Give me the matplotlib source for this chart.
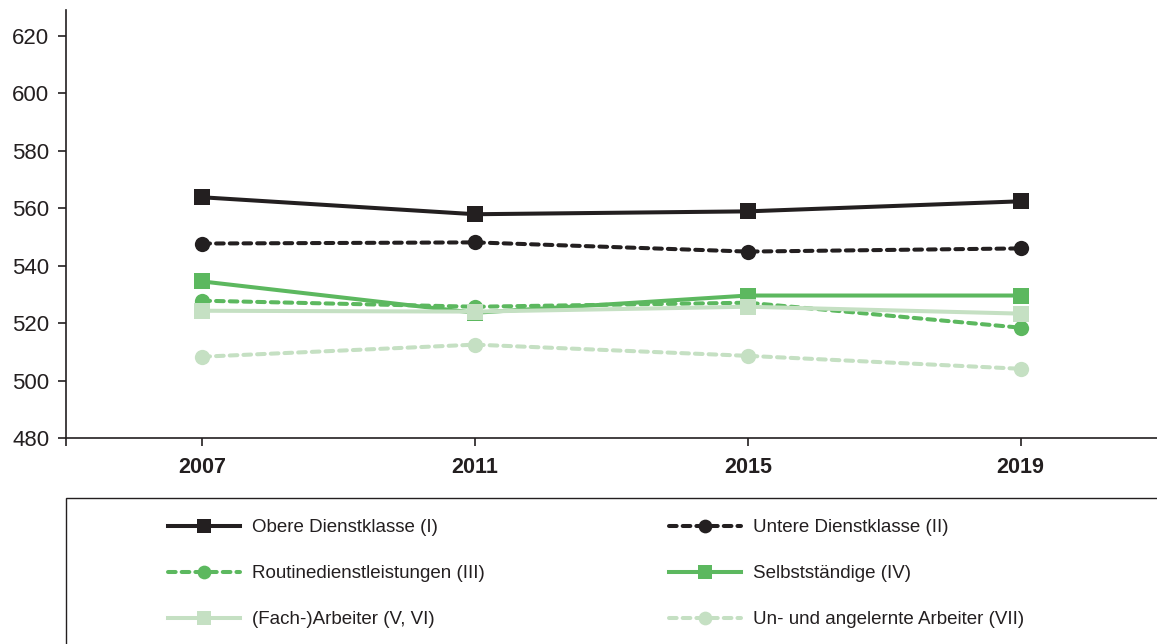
import matplotlib
matplotlib.use("Agg")
import matplotlib.pyplot as plt
from matplotlib.patches import Rectangle

plt.rcParams["font.family"] = ["Liberation Sans", "DejaVu Sans"]

YEARS = ["2007", "2011", "2015", "2019"]
SERIES = [
    "Obere Dienstklasse (I)",
    "Untere Dienstklasse (II)",
    "Routinedienstleistungen (III)",
    "Selbstständige (IV)",
    "(Fach-)Arbeiter (V, VI)",
    "Un- und angelernte Arbeiter (VII)",
]
obere = [563.8, 557.9, 558.9, 562.4]
untere = [547.7, 548.1, 544.9, 546.0]
routine = [527.8, 525.7, 527.1, 518.4]
selbst = [534.5, 523.6, 529.6, 529.6]
fach = [524.3, 524.0, 525.7, 523.3]
unangel = [508.3, 512.5, 508.6, 504.1]

BLACK = "#231f20"
GREEN = "#5cb85f"
LIGHT = "#c5e0c3"

STYLES = [
    (BLACK, "-", "s"),
    (BLACK, "--", "o"),
    (GREEN, "--", "o"),
    (GREEN, "-", "s"),
    (LIGHT, "-", "s"),
    (LIGHT, "--", "o"),
]


def main():
    fig = plt.figure(figsize=(11.57, 6.44), dpi=100)
    W, H = 1157, 644
    ax = fig.add_axes([66 / W, (H - 438) / H, (1157 - 66) / W, (438 - 10) / H])

    x = list(range(len(YEARS)))
    for name, vals, (col, ls, mk) in zip(SERIES, [obere, untere, routine, selbst, fach, unangel], STYLES):
        kw = dict(color=col, linewidth=2.9, marker=mk, markersize=11,
                  markeredgewidth=0, label=name, clip_on=False)
        if ls == "--":
            kw.update(linestyle=(0, (1.9, 1.5)), dash_capstyle="round")
        else:
            kw.update(linestyle="-")
        ax.plot(x, vals, **kw)

    ax.set_xlim(-0.5, 3.5)
    ax.set_ylim(480, 629)
    ax.set_yticks(range(480, 621, 20))
    ax.set_xticks(x)
    ax.set_xticklabels(YEARS, fontweight="bold", fontsize=15.5)
    ax.tick_params(axis="both", colors=BLACK, length=6, width=1.2)
    ax.tick_params(axis="y", labelsize=16, pad=6)
    ax.tick_params(axis="x", pad=8)
    for s in ["top", "right"]:
        ax.spines[s].set_visible(False)
    for s in ["left", "bottom"]:
        ax.spines[s].set_color(BLACK)
        ax.spines[s].set_linewidth(1.2)

    # tick at the left spine position on x
    ax.set_xticks([-0.5], minor=True)
    ax.tick_params(axis="x", which="minor", length=6, width=1.2, colors=BLACK)

    # legend frame running off the figure edges
    fig.patches.append(Rectangle((66 / W, -0.1), 1.2, (H - 498) / H + 0.1,
                                 transform=fig.transFigure, fill=False,
                                 edgecolor=BLACK, linewidth=1.0))

    handles, labels = ax.get_legend_handles_labels()
    order = [0, 2, 4, 1, 3, 5]
    fig.legend([handles[i] for i in order], [labels[i] for i in order],
               ncol=2, loc="upper left", bbox_to_anchor=(168 / W, (H - 519) / H),
               frameon=False, fontsize=13.5, handlelength=3.84, handletextpad=0.62,
               columnspacing=9.86, labelspacing=1.55, borderpad=0, borderaxespad=0,
               markerscale=0.9, labelcolor=BLACK)

    fig.savefig("out.png", dpi=100)
    plt.close(fig)


if __name__ == "__main__":
    main()
